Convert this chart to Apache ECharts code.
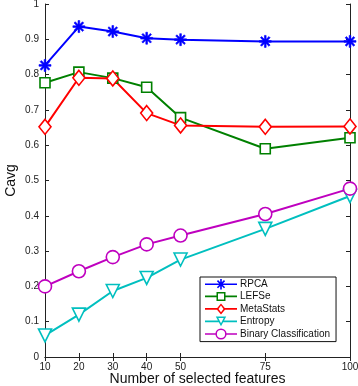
<!DOCTYPE html>
<html><head><meta charset="utf-8">
<script src="https://cdn.jsdelivr.net/npm/echarts@6/dist/echarts.min.js"></script>
<style>html,body{margin:0;padding:0;background:#fff}#c{width:358px;height:386px}</style>
</head><body><div id="c"></div>
<script>
const xValues = [10, 20, 30, 40, 50, 75, 100];
const yTicks = [0, 0.1, 0.2, 0.3, 0.4, 0.5, 0.6, 0.7, 0.8, 0.9, 1];
const rpca = [0.826, 0.936, 0.922, 0.903, 0.899, 0.894, 0.894];
const lefse = [0.777, 0.807, 0.790, 0.764, 0.678, 0.590, 0.621];
const metastats = [0.652, 0.791, 0.789, 0.691, 0.656, 0.652, 0.653];
const entropy = [0.061, 0.120, 0.187, 0.224, 0.276, 0.363, 0.456];
const binary = [0.200, 0.243, 0.283, 0.319, 0.344, 0.405, 0.477];
const names = ['RPCA', 'LEFSe', 'MetaStats', 'Entropy', 'Binary Classification'];
const colors = ['#0000ff', '#008000', '#ff0000', '#00bfbf', '#bf00bf'];

const asterisk = 'path://M-1,-0.14L1,-0.14L1,0.14L-1,0.14Z M-0.14,-1L0.14,-1L0.14,1L-0.14,1Z M-0.81,-0.61L-0.61,-0.81L0.81,0.61L0.61,0.81Z M0.61,-0.81L0.81,-0.61L-0.61,0.81L-0.81,0.61Z';

// legend icons: line + hollow marker, drawn in a 32x12 box
const legendIcons = [
  'path://M0,5.2L32,5.2L32,6.8L0,6.8Z M15.2,0.8L16.8,0.8L16.8,11.2L15.2,11.2Z M13.03,1.89L20.11,8.97L18.97,10.11L11.89,3.03Z M18.97,1.89L20.11,3.03L13.03,10.11L11.89,8.97Z',
  'path://M0,5.2L11.6,5.2L11.6,6.8L0,6.8Z M20.4,5.2L32,5.2L32,6.8L20.4,6.8Z M11.5,1.5L20.5,1.5L20.5,10.5L11.5,10.5Z M13,3L13,9L19,9L19,3Z',
  'path://M0,5.2L12.5,5.2L12.5,6.8L0,6.8Z M19.5,5.2L32,5.2L32,6.8L19.5,6.8Z M16,0.5L20.6,6L16,11.5L11.4,6Z M16,2.7L13.5,6L16,9.3L18.5,6Z',
  'path://M0,5.2L14.2,5.2L14.2,6.8L0,6.8Z M17.8,5.2L32,5.2L32,6.8L17.8,6.8Z M10.8,1.2L21.2,1.2L16,10.8Z M13.3,2.7L16,7.8L18.7,2.7Z',
  'path://M0,5.2L10.8,5.2L10.8,6.8L0,6.8Z M21.2,5.2L32,5.2L32,6.8L21.2,6.8Z M21.6,6A5.6,5.6 0 1,1 10.4,6A5.6,5.6 0 1,1 21.6,6Z M20.1,6A4.1,4.1 0 1,0 11.9,6A4.1,4.1 0 1,0 20.1,6Z'
];
const pair = v => xValues.map((x, i) => [x, v[i]]);
const font = 'Liberation Sans, Arial, sans-serif';

function mk(name, data, color, symbol, size, rot, filled) {
  return {
    name, type: 'line', data: pair(data), symbol, symbolSize: size, symbolRotate: rot || 0,
    showAllSymbol: true,
    lineStyle: { color, width: 2 },
    itemStyle: filled ? { color, borderColor: color, borderWidth: 0.6 } : { color: '#fff', borderColor: color, borderWidth: 1.6 },
    emphasis: { disabled: true }, animation: false, z: 2
  };
}

const chart = echarts.init(document.getElementById('c'), null, { renderer: 'canvas' });
const axisLine = { show: true, lineStyle: { color: '#222', width: 1 } };
chart.setOption({
  animation: false,
  grid: { left: 45, right: 8, top: 4, bottom: 29, containLabel: false, outerBoundsMode: 'none' },
  xAxis: [{
    type: 'value', min: 10, max: 100, interval: 5, position: 'bottom',
    axisLine, splitLine: { show: false },
    axisTick: { show: true, inside: true, length: 4, customValues: xValues, lineStyle: { color: '#222' } },
    axisLabel: { customValues: xValues, color: '#222', fontSize: 10, fontFamily: font, margin: 5 },
    name: 'Number of selected features', nameLocation: 'middle', nameGap: 15, nameMoveOverlap: false,
    nameTextStyle: { fontSize: 14, color: '#111', fontFamily: font }
  }, {
    type: 'value', min: 10, max: 100, interval: 5, position: 'top',
    axisLine, splitLine: { show: false },
    axisTick: { show: true, inside: true, length: 4, customValues: xValues, lineStyle: { color: '#222' } },
    axisLabel: { show: false }
  }],
  yAxis: [{
    type: 'value', min: 0, max: 1, interval: 0.1, position: 'left',
    axisLine, splitLine: { show: false },
    axisTick: { show: true, inside: true, length: 4, lineStyle: { color: '#222' } },
    axisLabel: { color: '#222', fontSize: 10, fontFamily: font, margin: 6,
      formatter: v => { const r = Math.round(v * 10) / 10; return yTicks.indexOf(r) >= 0 ? String(r) : ''; } },
    name: 'Cavg', nameLocation: 'middle', nameGap: 27, nameMoveOverlap: false,
    nameTextStyle: { fontSize: 14, color: '#111', fontFamily: font }
  }, {
    type: 'value', min: 0, max: 1, interval: 0.1, position: 'right',
    axisLine, splitLine: { show: false },
    axisTick: { show: true, inside: true, length: 4, lineStyle: { color: '#222' } },
    axisLabel: { show: false }
  }],
  legend: {
    left: 200, top: 277, orient: 'vertical',
    data: names.map((n, i) => ({ name: n, icon: legendIcons[i], itemStyle: { color: colors[i], borderWidth: 0 } })),
    itemWidth: 32, itemHeight: 12, itemGap: 2,
    padding: [2, 6, 2, 5],
    backgroundColor: '#fff', borderColor: '#111', borderWidth: 1, borderRadius: 0,
    textStyle: { fontSize: 10, color: '#111', fontFamily: font, padding: [0, 0, 0, -2] },
    selectedMode: false
  },
  series: [
    mk(names[0], rpca, colors[0], asterisk, 12, 0, true),
    mk(names[1], lefse, colors[1], 'rect', 10, 0, false),
    mk(names[2], metastats, colors[2], 'diamond', [12, 15], 0, false),
    mk(names[3], entropy, colors[3], 'triangle', 13, 180, false),
    mk(names[4], binary, colors[4], 'circle', 13, 0, false)
  ]
});
</script></body></html>
